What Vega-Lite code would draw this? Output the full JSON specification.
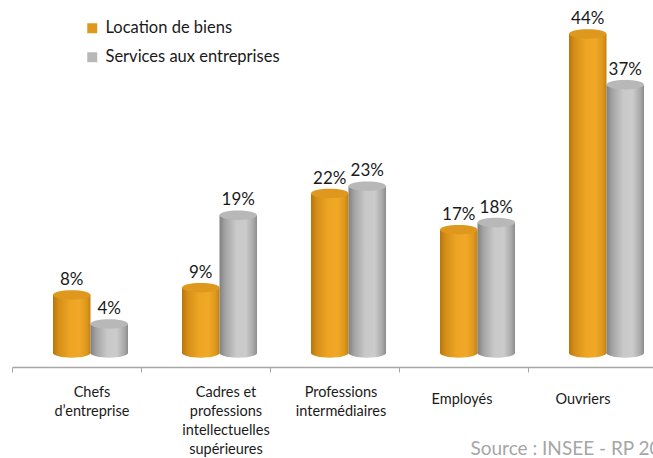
{
  "$schema": "https://vega.github.io/schema/vega-lite/v6.json",
  "width": 653,
  "height": 367,
  "autosize": "none",
  "padding": {"left": 0, "top": 0, "right": 0, "bottom": 91},
  "background": "white",
  "config": {"view": {"stroke": null}},
  "data": {
    "values": [
      {"cat": "Chefs d’entreprise", "series": "Location de biens", "value": 0.08},
      {"cat": "Chefs d’entreprise", "series": "Services aux entreprises", "value": 0.04},
      {"cat": "Cadres et professions intellectuelles supérieures", "series": "Location de biens", "value": 0.09},
      {"cat": "Cadres et professions intellectuelles supérieures", "series": "Services aux entreprises", "value": 0.19},
      {"cat": "Professions intermédiaires", "series": "Location de biens", "value": 0.22},
      {"cat": "Professions intermédiaires", "series": "Services aux entreprises", "value": 0.23},
      {"cat": "Employés", "series": "Location de biens", "value": 0.17},
      {"cat": "Employés", "series": "Services aux entreprises", "value": 0.18},
      {"cat": "Ouvriers", "series": "Location de biens", "value": 0.44},
      {"cat": "Ouvriers", "series": "Services aux entreprises", "value": 0.37}
    ]
  },
  "encoding": {
    "x": {
      "field": "cat", "type": "nominal", "sort": null,
      "scale": {"range": [12, 657], "paddingInner": 0, "paddingOuter": 0},
      "axis": {
        "title": "Source : INSEE - RP 20",
        "titleX": 470, "titleY": 81, "titleAlign": "left", "titleBaseline": "middle", "titleAnchor": "start",
        "titleColor": "#A6A6A6", "titleFont": "Lato", "titleFontSize": 19, "titleFontWeight": "normal",
        "domainColor": "#A6A6A6", "domainWidth": 1.5,
        "tickColor": "#A6A6A6", "tickSize": 5, "tickWidth": 1, "tickBand": "extent",
        "labelAngle": 0, "labelFont": "Lato", "labelFontSize": 14.5, "labelColor": "#1a1a1a",
        "labelBaseline": "top", "labelLineHeight": 19, "labelOverlap": false, "labelLimit": 0,
        "labelPadding": {"condition": {"test": "datum.value == 'Employés' || datum.value == 'Ouvriers'", "value": 20}, "value": 13},
        "labelOffset": {"condition": [
          {"test": "datum.value == 'Chefs d’entreprise'", "value": 15},
          {"test": "datum.value == 'Cadres et professions intellectuelles supérieures'", "value": 20},
          {"test": "datum.value == 'Professions intermédiaires'", "value": 6},
          {"test": "datum.value == 'Employés'", "value": -2}
        ], "value": -10},
        "labelExpr": "datum.value == 'Chefs d’entreprise' ? ['Chefs', 'd’entreprise'] : datum.value == 'Cadres et professions intellectuelles supérieures' ? ['Cadres et', 'professions', 'intellectuelles', 'supérieures'] : datum.value == 'Professions intermédiaires' ? ['Professions', 'intermédiaires'] : datum.label",
        "grid": false
      }
    },
    "xOffset": {
      "field": "series", "type": "nominal",
      "scale": {"domain": ["Location de biens", "Services aux entreprises"], "range": [41, 116], "paddingInner": 0, "paddingOuter": 0}
    }
  },
  "layer": [
    {
      "transform": [{"filter": "datum.series == 'Location de biens'"}],
      "mark": {"type": "bar", "fill": {"gradient": "linear", "x1": 0, "x2": 1, "y1": 0, "y2": 0, "stops": [
        {"offset": 0, "color": "#B8740E"}, {"offset": 0.15, "color": "#D58F18"}, {"offset": 0.45, "color": "#EEA524"},
        {"offset": 0.7, "color": "#F0A826"}, {"offset": 0.9, "color": "#DD971C"}, {"offset": 1, "color": "#C48010"}]}},
      "encoding": {"y": {"field": "value", "type": "quantitative", "scale": {"domain": [-0.0193, 0.4869], "nice": false, "zero": false}, "axis": null}}
    },
    {
      "transform": [{"filter": "datum.series == 'Location de biens'"}],
      "mark": {"type": "point", "shape": "M-1,0A1,0.25,0,1,0,1,0A1,0.25,0,1,0,-1,0Z", "size": 1406, "filled": true, "opacity": 1, "strokeWidth": 0,
        "fill": {"gradient": "linear", "x1": 0, "x2": 1, "y1": 0, "y2": 0, "stops": [
        {"offset": 0, "color": "#B8740E"}, {"offset": 0.15, "color": "#D58F18"}, {"offset": 0.45, "color": "#EEA524"},
        {"offset": 0.7, "color": "#F0A826"}, {"offset": 0.9, "color": "#DD971C"}, {"offset": 1, "color": "#C48010"}]}},
      "encoding": {"y": {"datum": 0, "type": "quantitative", "scale": {"domain": [-0.0193, 0.4869], "nice": false, "zero": false}, "axis": null}}
    },
    {
      "transform": [{"filter": "datum.series == 'Services aux entreprises'"}],
      "mark": {"type": "bar", "fill": {"gradient": "linear", "x1": 0, "x2": 1, "y1": 0, "y2": 0, "stops": [
        {"offset": 0, "color": "#808080"}, {"offset": 0.15, "color": "#A3A3A3"}, {"offset": 0.45, "color": "#C9C9C9"},
        {"offset": 0.7, "color": "#CBCBCB"}, {"offset": 0.9, "color": "#A9A9A9"}, {"offset": 1, "color": "#8C8C8C"}]}},
      "encoding": {"y": {"field": "value", "type": "quantitative", "scale": {"domain": [-0.0193, 0.4869], "nice": false, "zero": false}, "axis": null}}
    },
    {
      "transform": [{"filter": "datum.series == 'Services aux entreprises'"}],
      "mark": {"type": "point", "shape": "M-1,0A1,0.25,0,1,0,1,0A1,0.25,0,1,0,-1,0Z", "size": 1406, "filled": true, "opacity": 1, "strokeWidth": 0,
        "fill": {"gradient": "linear", "x1": 0, "x2": 1, "y1": 0, "y2": 0, "stops": [
        {"offset": 0, "color": "#808080"}, {"offset": 0.15, "color": "#A3A3A3"}, {"offset": 0.45, "color": "#C9C9C9"},
        {"offset": 0.7, "color": "#CBCBCB"}, {"offset": 0.9, "color": "#A9A9A9"}, {"offset": 1, "color": "#8C8C8C"}]}},
      "encoding": {"y": {"datum": 0, "type": "quantitative", "scale": {"domain": [-0.0193, 0.4869], "nice": false, "zero": false}, "axis": null}}
    },
    {
      "mark": {"type": "point", "shape": "M-1,0A1,0.25,0,1,0,1,0A1,0.25,0,1,0,-1,0Z", "size": 1406, "filled": true, "opacity": 1, "strokeWidth": 0},
      "encoding": {
        "y": {"field": "value", "type": "quantitative", "scale": {"domain": [-0.0193, 0.4869], "nice": false, "zero": false}, "axis": null},
        "color": {
          "field": "series", "type": "nominal",
          "scale": {"domain": ["Location de biens", "Services aux entreprises"], "range": ["#DE981E", "#B8B8B8"]},
          "legend": {"orient": "none", "legendX": 84, "legendY": 20, "title": null, "symbolType": "square", "symbolSize": 100,
            "symbolStrokeWidth": 0, "labelFont": "Lato", "labelFontSize": 16.5, "labelColor": "#1a1a1a", "labelOffset": 5,
            "labelLimit": 0, "rowPadding": 12, "padding": 0}
        }
      }
    },
    {
      "mark": {"type": "text", "baseline": "alphabetic", "dy": -10, "font": "Lato", "fontSize": 17, "color": "#1a1a1a"},
      "encoding": {
        "y": {"field": "value", "type": "quantitative", "scale": {"domain": [-0.0193, 0.4869], "nice": false, "zero": false}, "axis": null},
        "text": {"field": "value", "type": "quantitative", "format": ".0%"}
      }
    }
  ]
}
